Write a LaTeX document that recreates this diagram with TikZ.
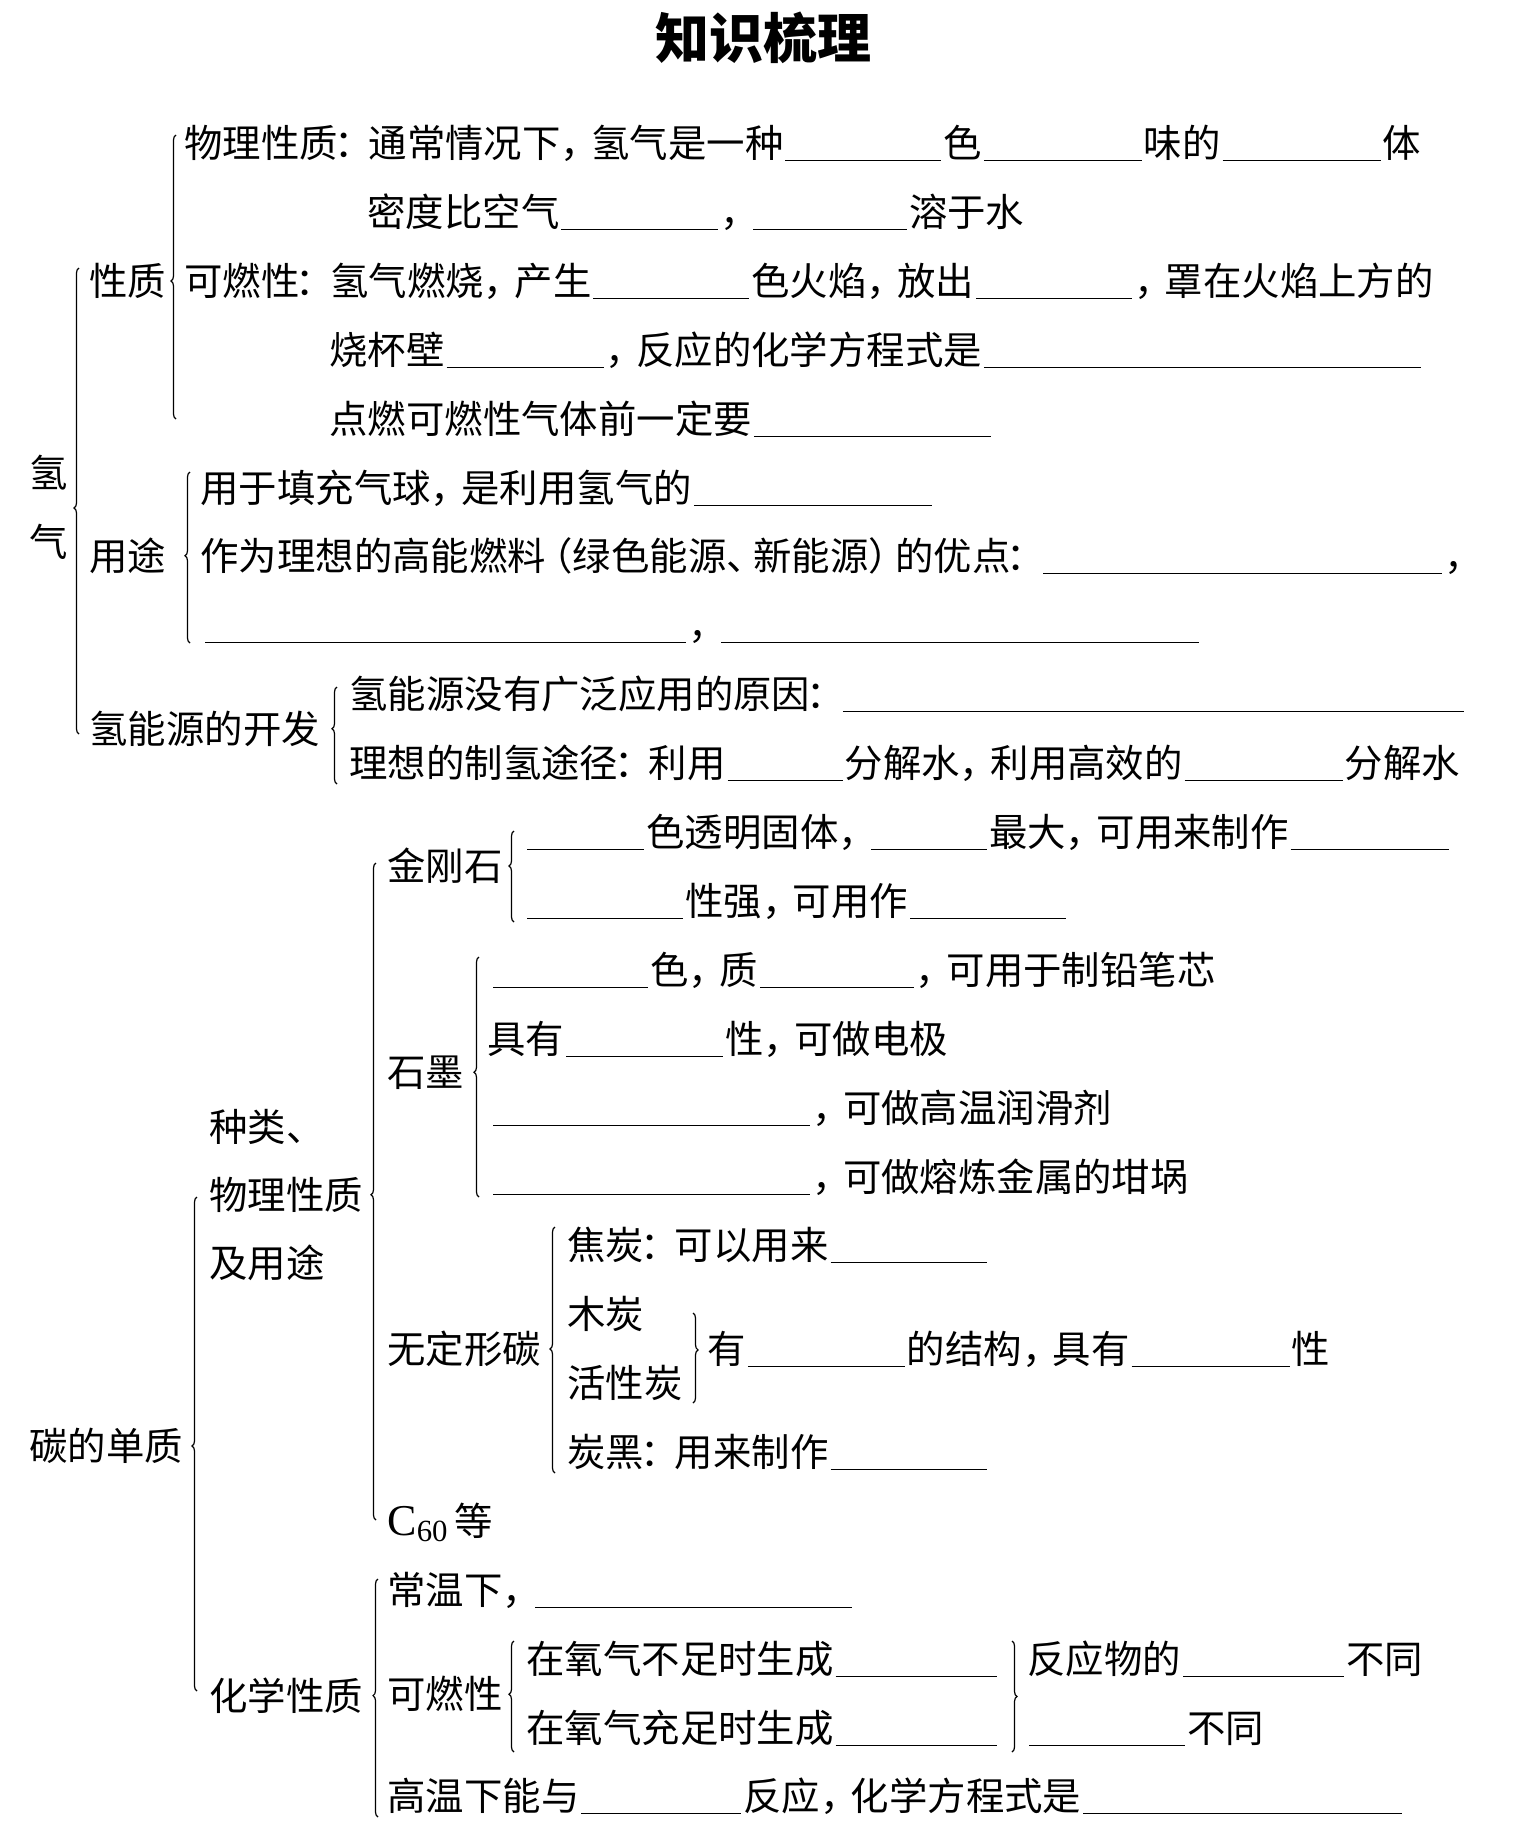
\documentclass[tikz,border=0pt]{standalone}
\usepackage{fontspec}
\newfontfamily\cjk{Noto Sans CJK SC}
\newfontfamily\latin{Liberation Serif}
\usetikzlibrary{decorations.pathreplacing}
\newdimen\pxu \pxu=0.5pt
\newcommand\fillin[1]{\kern2\pxu\rule[-2.2pt]{#1\pxu}{0.7pt}\kern2\pxu}
% narrower punctuation, as printed
\newcommand\zcomma{\makebox[0.8em][l]{，}}
\newcommand\zcolon{\makebox[0.8em][c]{：}}
\newcommand\zdun{\makebox[0.7em][l]{、}}
\newcommand\zlp{\makebox[0.7em][r]{（}}
\newcommand\zrp{\makebox[0.7em][l]{）}}
\tikzset{
  txt/.style={anchor=base west, inner sep=0pt, font=\cjk\fontsize{19.2}{34}\selectfont},
  br/.style={decorate, decoration={brace, amplitude=2.5pt, aspect=#1}, line width=0.6pt},
}

\begin{document}
\begin{tikzpicture}[x=0.5pt, y=-0.5pt]
    \useasboundingbox (0,0) rectangle (1526,1841);
    \node[font=\cjk\bfseries\fontsize{27}{30}\selectfont] (title) at (763,38) {知识梳理};

    % hydrogen
    \node[txt] (h) at (29,487) {氢};
    \node[txt] (q) at (29,556) {气};
    \node[txt] (xz) at (89,295) {性质};
    \node[txt] (yt) at (89,570) {用途};
    \node[txt] (kf) at (89,743) {氢能源的开发};
    \node[txt] (wl) at (184,157) {物理性质\zcolon 通常情况下\zcomma 氢气是一种\fillin{156}色\fillin{158}味的\fillin{158}体};
    \node[txt] (md) at (367,226) {密度比空气\fillin{157}\zcomma\fillin{154}溶于水};
    \node[txt] (kr) at (184,295) {可燃性\zcolon 氢气燃烧\zcomma 产生\fillin{156}色火焰\zcomma 放出\fillin{156}\zcomma 罩在火焰上方的};
    \node[txt] (sb) at (329,364) {烧杯壁\fillin{157}\zcomma 反应的化学方程式是\fillin{437}};
    \node[txt] (dr) at (329,433) {点燃可燃性气体前一定要\fillin{237}};
    \node[txt] (qq) at (200,502) {用于填充气球\zcomma 是利用氢气的\fillin{238}};
    \node[txt] (rl) at (200,570) {作为理想的高能燃料\zlp 绿色能源\zdun 新能源\zrp 的优点\zcolon\fillin{399}\zcomma};
    \node[txt] (yd) at (203,639) {\fillin{481}\zcomma\fillin{478}};
    \node[txt] (yy) at (349,708) {氢能源没有广泛应用的原因\zcolon\fillin{621}};
    \node[txt] (zq) at (349,777) {理想的制氢途径\zcolon 利用\fillin{115}分解水\zcomma 利用高效的\fillin{158}分解水};

    \draw[br=0.485] (79,734) -- (79,268);
    \draw[br=0.486] (176,419) -- (176,135);
    \draw[br=0.51] (190,643) -- (190,472);
    \draw[br=0.57] (337,784) -- (337,687);

    % carbon
    \node[txt] (tdz) at (29,1460) {碳的单质};
    \node[txt] (zl) at (209,1141) {种类\zdun};
    \node[txt] (wx) at (209,1209) {物理性质};
    \node[txt] (jy) at (209,1277) {及用途};
    \node[txt] (hxz) at (209,1710) {化学性质};
    \node[txt] (jgs) at (387,880) {金刚石};
    \node[txt] (jg1) at (525,846) {\fillin{117}色透明固体\zcomma\fillin{116}最大\zcomma 可用来制作\fillin{158}};
    \node[txt] (jg2) at (525,915) {\fillin{156}性强\zcomma 可用作\fillin{156}};
    \node[txt] (sm) at (387,1086) {石墨};
    \node[txt] (sm1) at (491,984) {\fillin{155}色\zcomma 质\fillin{154}\zcomma 可用于制铅笔芯};
    \node[txt] (sm2) at (487,1053) {具有\fillin{157}性\zcomma 可做电极};
    \node[txt] (sm3) at (491,1122) {\fillin{317}\zcomma 可做高温润滑剂};
    \node[txt] (sm4) at (491,1191) {\fillin{317}\zcomma 可做熔炼金属的坩埚};
    \node[txt] (wd) at (387,1363) {无定形碳};
    \node[txt] (jt) at (567,1259) {焦炭\zcolon 可以用来\fillin{156}};
    \node[txt] (mt) at (567,1328) {木炭};
    \node[txt] (hx) at (567,1397) {活性炭};
    \node[txt] (jg) at (707,1363) {有\fillin{157}的结构\zcomma 具有\fillin{158}性};
    \node[txt] (th) at (567,1466) {炭黑\zcolon 用来制作\fillin{156}};
    \node[txt] (c60) at (387,1535) {{\latin\fontsize{22}{24}\selectfont C\textsubscript{60}}\,等};
    \node[txt] (cw) at (387,1604) {常温下\zcomma\fillin{317}};
    \node[txt] (krx) at (387,1708) {可燃性};
    \node[txt] (bz) at (526,1673) {在氧气不足时生成\fillin{161}};
    \node[txt] (cz) at (526,1742) {在氧气充足时生成\fillin{161}};
    \node[txt] (fy) at (1027,1673) {反应物的\fillin{161}不同};
    \node[txt] (bt) at (1027,1742) {\fillin{156}不同};
    \node[txt] (gw) at (387,1810) {高温下能与\fillin{160}反应\zcomma 化学方程式是\fillin{319}};

    \draw[br=0.496] (197,1691) -- (197,1197);
    \draw[br=0.495] (376,1520) -- (376,863);
    \draw[br=0.615] (514,922) -- (514,831);
    \draw[br=0.52] (479,1197) -- (479,957);
    \draw[br=0.504] (555,1473) -- (555,1227);
    \draw[br=0.41] (693,1313) -- (693,1403);
    \draw[br=0.51] (378,1817) -- (378,1579);
    \draw[br=0.52] (514,1752) -- (514,1641);
    \draw[br=0.5] (1012,1641) -- (1012,1752);
\end{tikzpicture}
\end{document}
